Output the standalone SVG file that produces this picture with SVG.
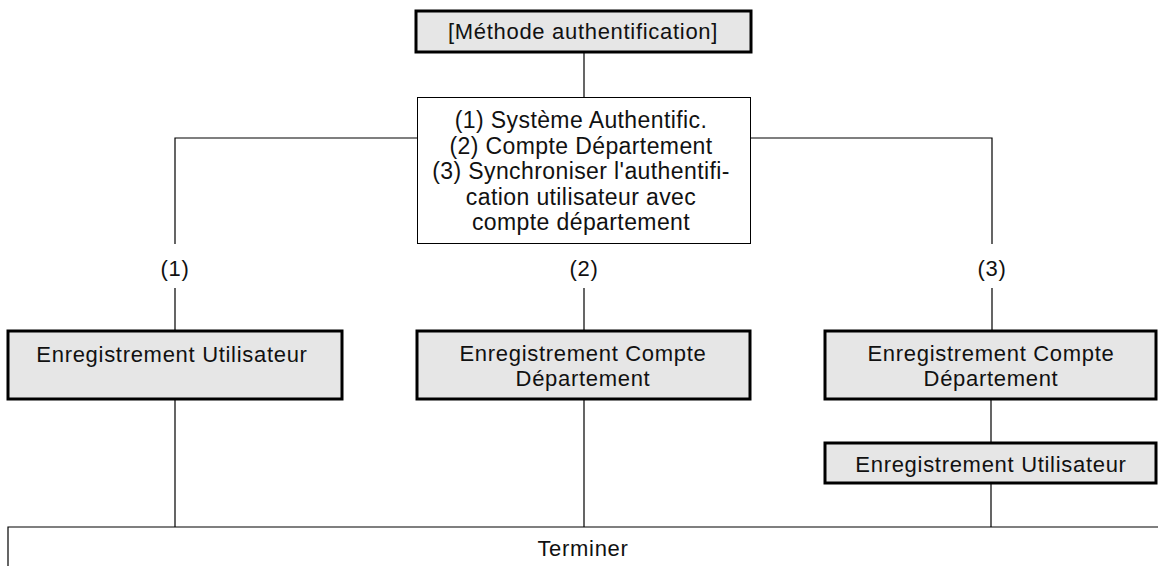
<svg xmlns="http://www.w3.org/2000/svg" width="1158" height="566" viewBox="0 0 1158 566">
<style>
.box{fill:#e6e6e6;stroke:#000;stroke-width:3}
.plain{fill:#fff;stroke:#000;stroke-width:1}
.ln{fill:none;stroke:#000;stroke-width:1.2}
text{font-family:"Liberation Sans",Arial,Helvetica,sans-serif;font-size:22px;letter-spacing:0.7px;fill:#111;text-anchor:middle}
.big{font-size:23px;letter-spacing:0.4px}
</style>
<rect width="1158" height="566" fill="#fff"/>
<g id="connectors">
<path class="ln" d="M584 52V97"/>
<path class="ln" d="M417 138H175V244M175 288V330"/>
<path class="ln" d="M750 138H992V244M992 288V330"/>
<path class="ln" d="M584 288V330"/>
<path class="ln" d="M175 400V527M584 400V527"/>
<path class="ln" d="M991 400V442M991 484V527"/>
<path class="ln" d="M8 566V527H1158"/>
</g>
<g id="n-methode">
<rect class="box" x="416" y="11" width="335" height="41"/>
<text x="583" y="39">[Méthode authentification]</text>
</g>
<g id="n-choix">
<rect class="plain" x="417.5" y="97.5" width="333" height="146"/>
<text class="big" x="581" y="128">(1) Système Authentific.</text>
<text class="big" x="581" y="153.5">(2) Compte Département</text>
<text class="big" x="581" y="179">(3) Synchroniser l'authentifi-</text>
<text class="big" x="581" y="204.5">cation utilisateur avec</text>
<text class="big" x="581" y="230">compte département</text>
</g>
<g id="lbl1"><text x="175" y="276">(1)</text></g>
<g id="lbl2"><text x="584" y="276">(2)</text></g>
<g id="lbl3"><text x="992" y="276">(3)</text></g>
<g id="n-user1">
<rect class="box" x="8" y="331" width="334" height="68"/>
<text x="172" y="362">Enregistrement Utilisateur</text>
</g>
<g id="n-compte2">
<rect class="box" x="417" y="331" width="333" height="68"/>
<text x="583" y="361">Enregistrement Compte</text>
<text x="583" y="386">Département</text>
</g>
<g id="n-compte3">
<rect class="box" x="825" y="331" width="331" height="68"/>
<text x="991" y="361">Enregistrement Compte</text>
<text x="991" y="386">Département</text>
</g>
<g id="n-user3">
<rect class="box" x="825" y="443" width="331" height="40"/>
<text x="991" y="472">Enregistrement Utilisateur</text>
</g>
<g id="n-terminer">
<text x="583" y="556">Terminer</text>
</g>
</svg>
